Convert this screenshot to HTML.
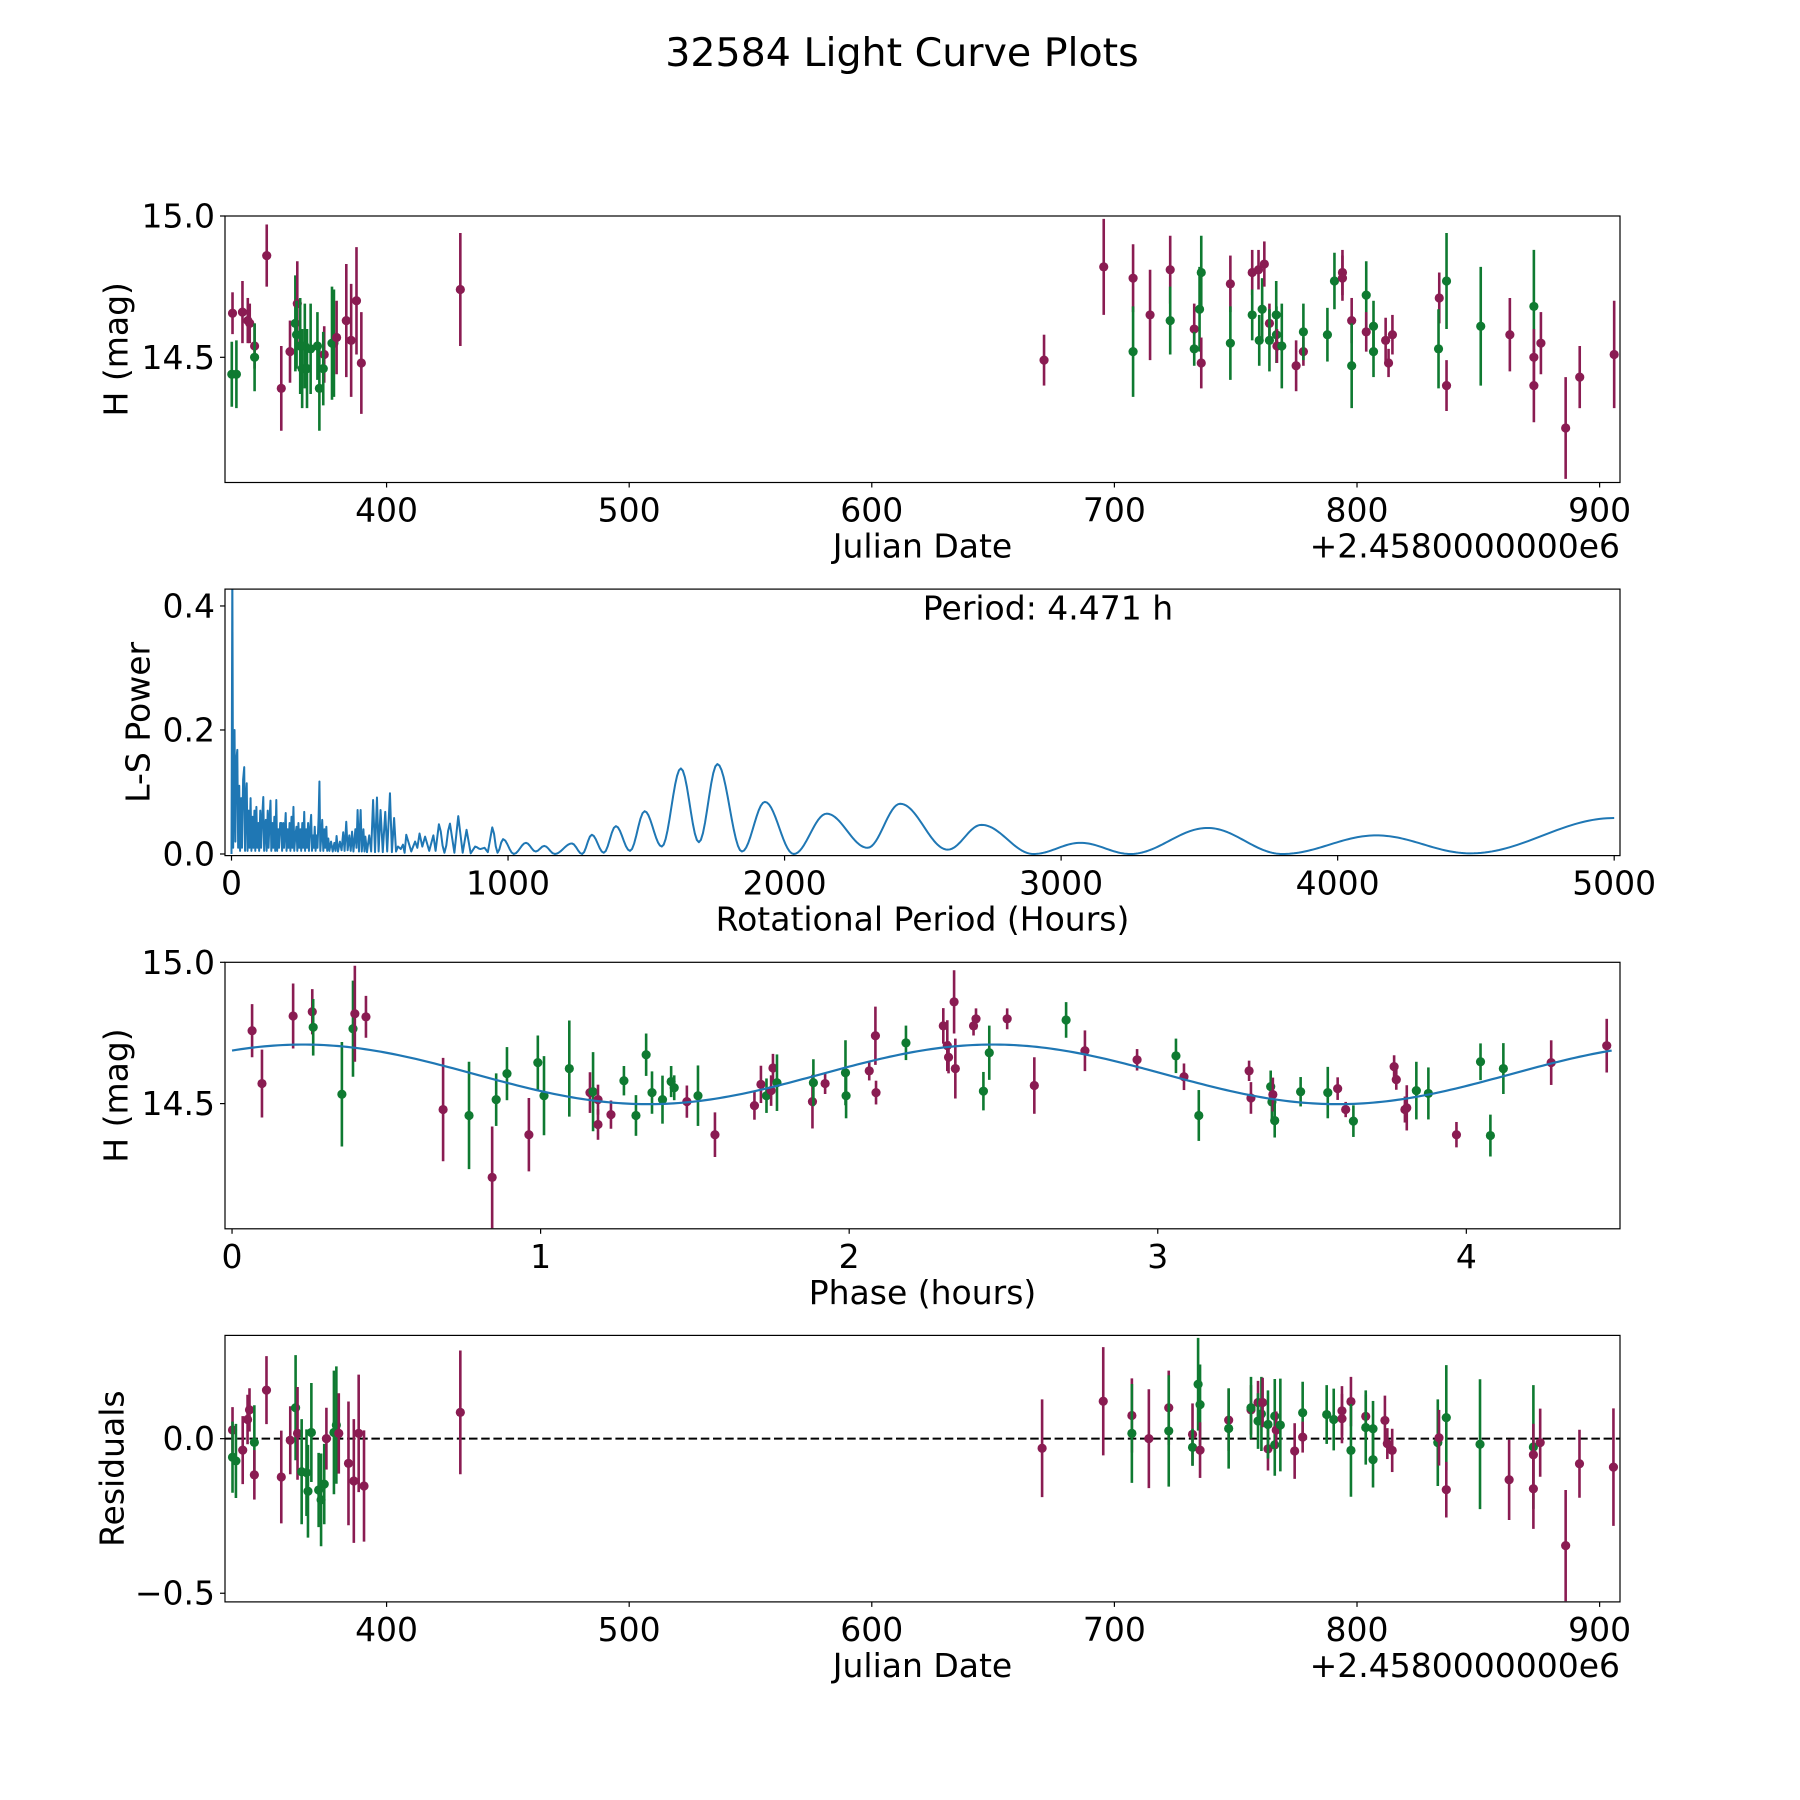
<!DOCTYPE html>
<html>
<head>
<meta charset="utf-8">
<style>
html,body{margin:0;padding:0;background:#fff;}
svg{display:block;font-family:"DejaVu Sans","Liberation Sans",sans-serif;}
</style>
</head>
<body>
<svg id="fig" width="1800" height="1800" viewBox="0 0 1800 1800" xmlns="http://www.w3.org/2000/svg">
<rect x="0" y="0" width="1800" height="1800" fill="#fff"/>
<text x="902" y="53" font-size="39.5" text-anchor="middle" dominant-baseline="central">32584 Light Curve Plots</text>
</svg>
<script>
// ---------- Panel 1: light curve vs Julian Date ----------
const jd1 = [336.5,336.2,338.1,340.6,342.8,343.6,345.6,345.6,350.6,356.6,360.2,362.4,363.2,362.9,364.4,365.2,366.3,367.2,368.7,371.5,372.3,374.3,373.9,377.5,378.3,379.4,383.4,385.4,387.6,389.6,430.4,671,
695.6,707.7,707.7,714.7,723.0,723.0,732.9,732.9,735.1,735.8,735.8,747.8,747.8,756.8,756.8,759.4,759.7,760.9,761.8,763.9,763.9,766.7,766.8,767.0,769.0,774.9,777.9,777.9,787.8,790.7,794.0,794.0,797.8,797.8,803.8,803.8,806.8,806.8,811.8,813.0,814.6,833.9,833.6,836.9,836.9,851.0,863.0,872.9,872.9,872.9,875.8,886.0,891.8,906.0];
const mag1 = [14.656,14.44,14.44,14.66,14.63,14.62,14.54,14.50,14.86,14.39,14.52,14.62,14.69,14.58,14.54,14.46,14.54,14.46,14.53,14.54,14.39,14.51,14.46,14.55,14.55,14.57,14.63,14.56,14.70,14.48,14.74,14.49,
14.82,14.78,14.52,14.65,14.81,14.63,14.60,14.53,14.67,14.80,14.48,14.76,14.55,14.80,14.65,14.81,14.56,14.67,14.83,14.62,14.56,14.65,14.58,14.54,14.54,14.47,14.52,14.59,14.58,14.77,14.80,14.78,14.63,14.47,14.72,14.59,14.61,14.52,14.56,14.48,14.58,14.71,14.53,14.77,14.40,14.61,14.58,14.68,14.50,14.40,14.55,14.25,14.43,14.51];
const err1 = [0.074,0.115,0.12,0.11,0.08,0.07,0.08,0.12,0.11,0.15,0.11,0.17,0.15,0.12,0.17,0.14,0.15,0.14,0.16,0.12,0.15,0.1,0.13,0.2,0.19,0.13,0.2,0.2,0.19,0.18,0.2,0.09,
0.17,0.12,0.16,0.16,0.12,0.12,0.09,0.06,0.15,0.13,0.09,0.1,0.13,0.08,0.09,0.07,0.09,0.11,0.08,0.07,0.11,0.12,0.1,0.06,0.15,0.09,0.05,0.1,0.095,0.1,0.08,0.08,0.08,0.15,0.12,0.07,0.09,0.09,0.08,0.05,0.07,0.09,0.14,0.17,0.09,0.21,0.13,0.2,0.1,0.13,0.11,0.18,0.11,0.19];
const band1 = "mggmmmmgmmmgmggggggggmgggmmmmmmm"+"mmgmmgmgggmmgmgmggmmgggmgmmgggmmmggmggmmmmggmgmgmmmmmm";

// ---------- Panel 2: Lomb-Scargle periodogram (extrema) ----------
const lsPeriod = [0,3,6,8,11,14,17,21,24,28,31,35,38,42,46,49,52,55,58,62,65,69,72,76,79,83,86,90,93,97,100,104,107,111,115,118,121,124,127,131,134,138,141,144,148,151,155,158,162,165,169,172,176,180,183,187,190,193,196,199,203,206,210,213,217,220,224,227,231,235,238,242,245,249,252,256,259,263,266,270,273,277,280,284,288,291,295,298,301,304,308,311,315,318,321,325,328,332,336,339,343,346,350,354,360,366,372,376,380,385,392,398,404,409,415,420,426,431,436,441,448,452,456,461,467,471,477,481,484,490,498,505,512,519,526,532,539,547,556,563,573,580,588,595,602,612,620,626,632,650,664,672,680,690,700,715,730,738,750,770,790,806,820,836,850,865,881,900,915,927,943,962,982,1021,1065,1100,1131,1169,1231,1268,1303,1346,1390,1441,1494,1556,1625,1690,1757,1846,1929,2033,2152,2300,2418,2590,2712,2900,3070,3250,3530,3800,4140,4480,5000];
const lsPower = [0,0.46,0.01,0.12,0.2,0.02,0.15,0.168,0.01,0.11,0.005,0.09,0.01,0.12,0.14,0.005,0.09,0.114,0.005,0.07,0.01,0.09,0.005,0.06,0.01,0.07,0.005,0.076,0.01,0.05,0.005,0.07,0.01,0.06,0.092,0.005,0.04,0.055,0.005,0.07,0.01,0.06,0.086,0.005,0.05,0.01,0.06,0.005,0.087,0.005,0.04,0.01,0.05,0.05,0.005,0.05,0.01,0.04,0.066,0.005,0.04,0.01,0.05,0.005,0.06,0.01,0.076,0.005,0.03,0.044,0.005,0.05,0.01,0.04,0.005,0.05,0.01,0.068,0.005,0.04,0.01,0.05,0.005,0.04,0.063,0.005,0.03,0.01,0.044,0.005,0.03,0.01,0.06,0.117,0.005,0.03,0.055,0.005,0.04,0.01,0.044,0.005,0.025,0.005,0.02,0.004,0.018,0.005,0.029,0.004,0.02,0.006,0.035,0.005,0.052,0.006,0.03,0.005,0.036,0.004,0.04,0.01,0.071,0.004,0.071,0.004,0.04,0.004,0.028,0.003,0.03,0.004,0.087,0.003,0.091,0.004,0.071,0.003,0.068,0.004,0.098,0.003,0.058,0.004,0.012,0.008,0.015,0.002,0.031,0.004,0.02,0.01,0.033,0.012,0.028,0.005,0.03,0.005,0.048,0.002,0.049,0.002,0.061,0.002,0.039,0.001,0.012,0.008,0.01,0.003,0.043,0.002,0.024,0,0.018,0.004,0.013,0,0.017,0,0.031,0.002,0.045,0.005,0.069,0.012,0.138,0.019,0.145,0.004,0.084,0,0.065,0.01,0.081,0.007,0.047,0,0.018,0,0.042,0,0.03,0.001,0.058];
const bestPeriodLabel = "Period: 4.471 h";

// ---------- Panel 3: phased light curve ----------
const phase3 = [0.065,0.097,0.198,0.26,0.263,0.356,0.392,0.398,0.434,0.684,0.768,0.843,0.856,0.891,0.962,0.991,1.011,1.093,1.16,1.17,1.186,1.186,1.228,1.27,1.309,1.342,1.361,1.395,1.423,1.433,1.474,1.51,1.565,1.693,1.714,1.732,1.747,1.753,1.766,1.881,1.884,1.922,1.988,1.99,2.065,2.085,2.087,2.184,
2.305,2.318,2.322,2.34,2.344,2.403,2.411,2.435,2.454,2.512,2.6,2.703,2.764,2.933,3.059,3.085,3.133,3.296,3.302,3.366,3.37,3.373,3.379,3.463,3.551,3.583,3.609,3.634,3.766,3.773,3.801,3.807,3.838,3.877,3.968,4.046,4.078,4.12,4.275,4.455];
const mag3 = [14.758,14.571,14.81,14.825,14.77,14.533,14.765,14.818,14.807,14.479,14.458,14.239,14.514,14.606,14.39,14.645,14.528,14.624,14.539,14.542,14.514,14.426,14.461,14.581,14.458,14.673,14.539,14.514,14.578,14.556,14.507,14.528,14.39,14.493,14.568,14.528,14.546,14.626,14.574,14.507,14.574,14.571,14.609,14.528,14.616,14.74,14.539,14.715,
14.775,14.705,14.664,14.86,14.624,14.775,14.8,14.544,14.68,14.8,14.564,14.796,14.687,14.655,14.669,14.595,14.458,14.616,14.52,14.56,14.506,14.532,14.44,14.542,14.539,14.553,14.479,14.438,14.631,14.585,14.479,14.485,14.546,14.536,14.39,14.648,14.387,14.624,14.645,14.705];
const err3 = [0.094,0.12,0.115,0.08,0.1,0.185,0.17,0.17,0.074,0.183,0.19,0.18,0.093,0.094,0.13,0.096,0.14,0.17,0.072,0.14,0.053,0.054,0.05,0.052,0.072,0.075,0.075,0.085,0.055,0.044,0.057,0.107,0.079,0.05,0.066,0.061,0.054,0.05,0.1,0.095,0.083,0.037,0.115,0.08,0.034,0.103,0.042,0.061,
0.063,0.09,0.057,0.112,0.106,0.034,0.037,0.068,0.096,0.037,0.1,0.063,0.072,0.038,0.061,0.047,0.09,0.036,0.056,0.057,0.064,0.06,0.06,0.052,0.091,0.04,0.027,0.056,0.04,0.036,0.046,0.08,0.102,0.092,0.045,0.065,0.074,0.09,0.079,0.095];
const band3 = "mmmmgggmmmgmggmgggmgmmmgggggggmgmmmgmmgmgmggmmmg"+"mmmmmmmggmmgmmgmgmmggmgggmmgmmmmggmgggmm";
const fitMean = 14.6035, fitAmp = 0.1055, fitPeakPhase = 0.23, fitPeriod = 2.2355;

// ---------- Panel 4: residuals ----------
const jd4 = [336.5,336.5,337.9,340.7,342.7,343.5,345.5,345.5,350.5,356.6,360.3,362.5,363.3,365,367,367.6,369,372,373,374.3,375.2,378.3,379.3,380.3,384.3,386.5,388.5,390.7,430.4,
670.2,695.4,707.2,707.2,714.2,722.4,722.4,732.2,732.2,734.5,735.3,735.3,747.1,747.1,756.3,756.3,759.2,759.2,760.6,761.1,763.3,763.3,766.1,766.1,766.7,768.4,774.3,
777.6,777.6,787.5,790.4,793.8,793.8,797.5,797.5,803.6,803.6,806.6,806.6,811.5,812.5,814.5,833.3,833.8,836.8,836.8,850.7,862.7,872.7,872.7,872.7,875.5,886,891.7,905.7];
const res4 = [0.028,-0.06,-0.072,-0.037,0.062,0.093,-0.012,-0.117,0.157,-0.124,-0.005,0.10,0.017,-0.107,-0.11,-0.17,0.02,-0.166,-0.198,-0.147,0.0,0.02,0.044,0.017,-0.08,-0.137,0.017,-0.153,0.085,
-0.031,0.121,0.075,0.017,0,0.10,0.025,0.014,-0.028,0.176,0.11,-0.037,0.06,0.033,0.093,0.1,0.117,0.057,0.08,0.117,-0.033,0.046,0.073,-0.02,0.028,0.044,-0.04,
0.084,0.005,0.078,0.062,0.09,0.065,0.12,-0.038,0.072,0.036,0.032,-0.068,0.059,-0.016,-0.038,-0.013,0.003,0.068,-0.165,-0.018,-0.133,-0.027,-0.052,-0.162,-0.013,-0.346,-0.081,-0.092];
const err4 = [0.074,0.115,0.12,0.11,0.08,0.07,0.12,0.08,0.11,0.15,0.11,0.17,0.15,0.17,0.14,0.15,0.16,0.12,0.15,0.13,0.1,0.2,0.19,0.13,0.2,0.2,0.19,0.18,0.2,
0.158,0.175,0.12,0.16,0.16,0.12,0.18,0.1,0.06,0.15,0.13,0.09,0.1,0.13,0.08,0.1,0.07,0.09,0.12,0.08,0.07,0.11,0.12,0.1,0.06,0.15,0.09,
0.1,0.05,0.095,0.1,0.08,0.08,0.08,0.15,0.07,0.12,0.09,0.09,0.08,0.05,0.07,0.14,0.09,0.17,0.09,0.21,0.13,0.2,0.1,0.13,0.11,0.18,0.11,0.19];
const band4 = "mggmmmgmmmmgmgggggggmggmmmmmm"+"mmmgmmgmgggmmgmgmggmmgggmgm"+"gmggmmmgmgggmmmgmgmgmgmmmmmm";

// ---------- Ticks ----------
const jdTicks = [400,500,600,700,800,900];
const magTicks = [14.5,15.0];
const magTickLabels = ["14.5","15.0"];
const lsXTicks = [0,1000,2000,3000,4000,5000];
const lsYTicks = [0,0.2,0.4];
const lsYTickLabels = ["0.0","0.2","0.4"];
const phaseTicks = [0,1,2,3,4];
const resTicks = [-0.5,0.0];
const resTickLabels = ["\u22120.5","0.0"];

// ---------- rendering ----------
const NS = "http://www.w3.org/2000/svg";
const svg = document.getElementById('fig');
const COL = {m:"#8a1c52", g:"#0f7a31"};
const L = 225, R = 1620, H = 266.5;
const tops = [216, 589.1, 962.3, 1335.4];

function mk(tag, attrs, parent){
  const e = document.createElementNS(NS, tag);
  for (const k in attrs) e.setAttribute(k, attrs[k]);
  (parent||svg).appendChild(e);
  return e;
}
function scale(d0,d1,r0,r1){ return v => r0 + (v-d0)/(d1-d0)*(r1-r0); }

function makeAxes(i, xd, yd, name){
  const top = tops[i], bot = top + H;
  const g = mk('g', {});
  
  
  const clipId = 'clip'+i;
  const cp = mk('clipPath', {id: clipId}, g);
  mk('rect', {x:L, y:top, width:R-L, height:H}, cp);
  const plot = mk('g', {'clip-path':'url(#'+clipId+')'}, g);
  
  
  return {g, plot, top, bot, x: scale(xd[0],xd[1],L,R), y: scale(yd[0],yd[1],bot,top)};
}
function frame(ax, name){
  const r = mk('rect', {x:L, y:ax.top, width:R-L, height:H, fill:'none', stroke:'#000', 'stroke-width':1.2}, ax.g);
  
  
}
function xTicks(ax, vals, labels, name){
  vals.forEach((v,k)=>{
    const px = ax.x(v);
    const t = mk('line', {x1:px, x2:px, y1:ax.bot, y2:ax.bot+5, stroke:'#000', 'stroke-width':1.2}, ax.g);
    
    
    const tx = mk('text', {x:px, y:ax.bot+39, 'font-size':33, 'text-anchor':'middle'}, ax.g);
    tx.textContent = labels[k];
    
    
  });
}
function yTicks(ax, vals, labels, name){
  vals.forEach((v,k)=>{
    const py = ax.y(v);
    const t = mk('line', {x1:L-5, x2:L, y1:py, y2:py, stroke:'#000', 'stroke-width':1.2}, ax.g);
    
    
    const tx = mk('text', {x:L-10, y:py, 'font-size':33, 'text-anchor':'end', 'dominant-baseline':'central'}, ax.g);
    tx.textContent = labels[k];
    
    
  });
}
function xLabel(ax, text, name){
  const t = mk('text', {x:(L+R)/2, y:ax.bot+75, 'font-size':33, 'text-anchor':'middle'}, ax.g);
  t.textContent = text;
  
  
}
function offsetText(ax, name){
  const t = mk('text', {x:R, y:ax.bot+75, 'font-size':33, 'text-anchor':'end'}, ax.g);
  t.textContent = "+2.4580000000e6";
  
  
}
function yLabel(ax, text, cx, name){
  const cy = ax.top + H/2;
  const t = mk('text', {x:cx, y:cy, 'font-size':33, 'text-anchor':'middle', 'dominant-baseline':'central', transform:'rotate(-90 '+cx+' '+cy+')'}, ax.g);
  t.textContent = text;
  
  
}
function errPoints(ax, xs, ys, es, bands, name){
  for (let k=0;k<xs.length;k++){
    const c = COL[bands[k]] || COL.m;
    const px = ax.x(xs[k]);
    const ln = mk('line', {x1:px, x2:px, y1:ax.y(ys[k]-es[k]), y2:ax.y(ys[k]+es[k]), stroke:c, 'stroke-width':2.6}, ax.plot);
    
    
    const d = mk('circle', {cx:px, cy:ax.y(ys[k]), r:4.6, fill:c}, ax.plot);
    
    
  }
}

// Panel 1
const ax1 = makeAxes(0, [333.4, 908.4], [14.057, 15.0], 'light-curve-panel');
errPoints(ax1, jd1, mag1, err1, band1, 'light-curve');
frame(ax1, 'light-curve');
xTicks(ax1, jdTicks, jdTicks.map(String), 'light-curve');
yTicks(ax1, magTicks, magTickLabels, 'light-curve');
xLabel(ax1, 'Julian Date', 'light-curve');
offsetText(ax1, 'light-curve');
yLabel(ax1, 'H (mag)', 116, 'light-curve');

// Panel 2
const ax2 = makeAxes(1, [-23.5, 5021], [-0.0026, 0.4272], 'periodogram-panel');
{
  let d = '';
  for (let k=0;k<lsPeriod.length;k++){
    if (k===0){ d += 'M'+ax2.x(lsPeriod[0]).toFixed(2)+' '+ax2.y(lsPower[0]).toFixed(2); continue; }
    const p0 = lsPeriod[k-1], p1 = lsPeriod[k], v0 = lsPower[k-1], v1 = lsPower[k];
    const n = Math.max(1, Math.min(40, Math.round((ax2.x(p1)-ax2.x(p0))/2)));
    for (let s=1;s<=n;s++){
      const t = s/n, e = (1-Math.cos(Math.PI*t))/2;
      d += ' L'+ax2.x(p0+(p1-p0)*t).toFixed(2)+' '+ax2.y(v0+(v1-v0)*e).toFixed(2);
    }
  }
  const path = mk('path', {d, fill:'none', stroke:'#1f77b4', 'stroke-width':2, 'stroke-linejoin':'round'}, ax2.plot);
  
  
}
frame(ax2, 'periodogram');
xTicks(ax2, lsXTicks, lsXTicks.map(String), 'periodogram');
yTicks(ax2, lsYTicks, lsYTickLabels, 'periodogram');
xLabel(ax2, 'Rotational Period (Hours)', 'periodogram');
yLabel(ax2, 'L-S Power', 138, 'periodogram');
{
  const t = mk('text', {x:1048, y:608, 'font-size':33, 'text-anchor':'middle', 'dominant-baseline':'central'}, ax2.g);
  t.textContent = bestPeriodLabel;
  
  
}

// Panel 3
const ax3 = makeAxes(2, [-0.0228, 4.498], [14.057, 15.0], 'phase-panel');
errPoints(ax3, phase3, mag3, err3, band3, 'phase');
{
  let d = '';
  const n = 300;
  for (let s=0;s<=n;s++){
    const ph = 4.471*s/n;
    const v = fitMean + fitAmp*Math.cos(2*Math.PI*(ph-fitPeakPhase)/fitPeriod);
    d += (s?' L':'M')+ax3.x(ph).toFixed(2)+' '+ax3.y(v).toFixed(2);
  }
  const path = mk('path', {d, fill:'none', stroke:'#1f77b4', 'stroke-width':2.2}, ax3.plot);
  
  
}
frame(ax3, 'phase');
xTicks(ax3, phaseTicks, phaseTicks.map(String), 'phase');
yTicks(ax3, magTicks, magTickLabels, 'phase');
xLabel(ax3, 'Phase (hours)', 'phase');
yLabel(ax3, 'H (mag)', 116, 'phase');

// Panel 4
const ax4 = makeAxes(3, [333.4, 908.4], [-0.528, 0.334], 'residuals-panel');
{
  const z = ax4.y(0);
  const ln = mk('line', {x1:L, x2:R, y1:z, y2:z, stroke:'#000', 'stroke-width':2, 'stroke-dasharray':'8.5 3.7'}, ax4.plot);
  
  
}
errPoints(ax4, jd4, res4, err4, band4, 'residual');
frame(ax4, 'residuals');
xTicks(ax4, jdTicks, jdTicks.map(String), 'residuals');
yTicks(ax4, resTicks, resTickLabels, 'residuals');
xLabel(ax4, 'Julian Date', 'residuals');
offsetText(ax4, 'residuals');
yLabel(ax4, 'Residuals', 112, 'residuals');
</script>
</body>
</html>
